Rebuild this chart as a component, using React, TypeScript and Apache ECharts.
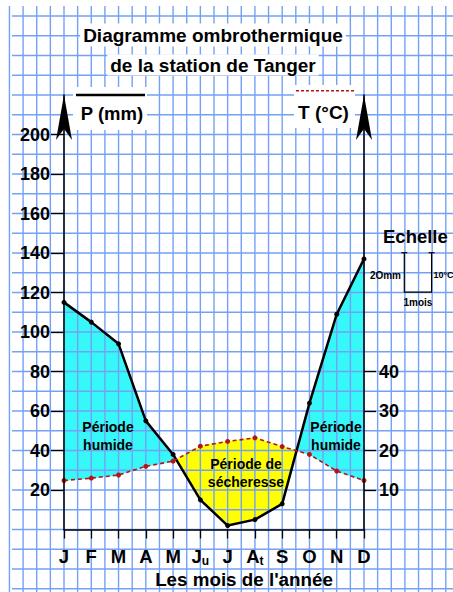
import React, { useEffect, useRef } from 'react';
import * as echarts from 'echarts';

// ---- data ----
const months = ['J', 'F', 'M', 'A', 'M', 'Ju', 'J', 'At', 'S', 'O', 'N', 'D'];
const precipitation = [115, 105, 94, 55, 38, 15, 2, 5, 13, 64, 109, 137]; // mm
const temperature = [12.4, 13.0, 13.8, 16.0, 17.3, 21.1, 22.3, 23.2, 21.0, 19.0, 14.8, 12.4]; // °C
const precipTicks = [20, 40, 60, 80, 100, 120, 140, 160, 180, 200];
const tempTicks = [10, 20, 30, 40];
const MM_PER_DEGREE = 2; // ombrothermic convention P = 2T
const P_MAX = 220;

// ---- layout ----
const W = 453;
const H = 592;
const GRID_LEFT = 64;
const GRID_WIDTH = 300;
const GRID_TOP = 95;
const AXIS_Y = 529.5;
const FONT = '"Liberation Sans", Arial, Helvetica, sans-serif';
const CYAN = '#36f8f8';
const YELLOW = '#ffff00';
const PAPER = '#74a1f4';
const RED = '#b3151b';

function buildPaper() {
  const els: any[] = [];
  const cellW = GRID_WIDTH / (months.length - 1) / 2;
  const pxPerMM = (AXIS_Y - GRID_TOP) / P_MAX;
  const cellH = 10 * pxPerMM;
  let x0 = GRID_LEFT;
  while (x0 - cellW >= 9) x0 -= cellW;
  for (let x = x0; x <= W; x += cellW) {
    els.push({ type: 'line', silent: true, z: 2, shape: { x1: x, y1: 6, x2: x, y2: H }, style: { stroke: PAPER, lineWidth: 1.4 } });
  }
  let y0 = AXIS_Y;
  while (y0 + cellH <= H) y0 += cellH;
  for (let y = y0; y >= 14; y -= cellH) {
    els.push({ type: 'line', silent: true, z: 2, shape: { x1: 12, y1: y, x2: W, y2: y }, style: { stroke: PAPER, lineWidth: 1.4 } });
  }
  return { els, cellW, pxPerMM };
}

function txt(text: string, x: number, y: number, size: number, align: string, extra: any = {}) {
  return {
    type: 'text', z: 20, silent: true, x, y,
    style: {
      text, fill: '#000', fontFamily: FONT, fontWeight: 'bold', fontSize: size,
      align, verticalAlign: 'middle', ...extra,
    },
  };
}

export default function App() {
  const ref = useRef<HTMLDivElement>(null);
  useEffect(() => {
    if (!ref.current) return;
    const chart = echarts.init(ref.current, null, { renderer: 'svg' });
    const { els: paper, cellW, pxPerMM } = buildPaper();
    const scaleH = 20 * pxPerMM;
    const scaleW = cellW * 2;
    const sx = 404.3;
    const sy = 252.7;

    const graphics: any[] = [
      ...paper,
      // title
      txt('Diagramme ombrothermique', 213, 35, 19, 'center', { backgroundColor: '#fff', padding: [2, 3] }),
      txt('de la station de Tanger', 213, 65, 19, 'center', { backgroundColor: '#fff', padding: [1, 3] }),
      // P legend
      { type: 'rect', z: 15, silent: true, shape: { x: 73, y: 87, width: 74, height: 43 }, style: { fill: '#fff' } },
      { type: 'line', z: 16, silent: true, shape: { x1: 76, y1: 95, x2: 145, y2: 95 }, style: { stroke: '#000', lineWidth: 2.5 } },
      txt('P (mm)', 112, 113, 18.5, 'center'),
      // T legend
      { type: 'rect', z: 15, silent: true, shape: { x: 294, y: 85, width: 61, height: 43 }, style: { fill: '#fff' } },
      { type: 'line', z: 16, silent: true, shape: { x1: 296, y1: 90.7, x2: 354, y2: 90.7 }, style: { stroke: RED, lineWidth: 1.5, lineDash: [3, 2] } },
      txt('T (°C)', 323.5, 112, 19, 'center'),
      // scale
      txt('Echelle', 383, 236, 18.5, 'left'),
      { type: 'polyline', z: 16, silent: true, shape: { points: [[sx, sy], [sx, sy + scaleH], [sx + scaleW, sy + scaleH], [sx + scaleW, sy]] }, style: { stroke: '#000', lineWidth: 1.2, fill: null } },
      { type: 'line', z: 16, silent: true, shape: { x1: sx - 3, y1: sy, x2: sx + 3, y2: sy }, style: { stroke: '#000', lineWidth: 1.2 } },
      { type: 'line', z: 16, silent: true, shape: { x1: sx + scaleW - 3, y1: sy, x2: sx + scaleW + 3, y2: sy }, style: { stroke: '#000', lineWidth: 1.2 } },
      txt('2Omm', 401, 275, 10, 'right'),
      txt('10°C', 433.5, 275, 9, 'left'),
      txt('1mois', sx + scaleW / 2, 302, 10, 'center'),
      // period labels
      txt('Période\nhumide', 108, 436, 14, 'center', { lineHeight: 18 }),
      txt('Période\nhumide', 336, 436, 14, 'center', { lineHeight: 18 }),
      txt('Période de\nsécheresse', 246, 473, 14, 'center', { lineHeight: 18 }),
      // x axis title
      txt("Les mois de l'année", 244, 579, 18.8, 'center'),
    ];

    const axisText = { color: '#000', fontWeight: 'bold', fontFamily: FONT };

    chart.setOption({
      animation: false,
      textStyle: { fontFamily: FONT },
      grid: { left: GRID_LEFT, top: GRID_TOP, width: GRID_WIDTH, height: AXIS_Y - GRID_TOP },
      xAxis: {
        type: 'category', data: months, boundaryGap: false, z: 6,
        axisLine: { lineStyle: { color: '#000', width: 1.5 } },
        axisTick: { show: true, interval: 0, length: 9, lineStyle: { color: '#000', width: 1.3 } },
        splitLine: { show: false },
        axisLabel: {
          interval: 0, margin: 17,
          formatter: (v: string) => (v === 'Ju' ? '{b|J}{s|u}' : v === 'At' ? '{b|A}{s|t}' : '{b|' + v + '}'),
          rich: {
            b: { ...axisText, fontSize: 18.5, lineHeight: 20 },
            s: { ...axisText, fontSize: 12, lineHeight: 12, verticalAlign: 'bottom' },
          },
        },
      },
      yAxis: [
        {
          type: 'value', min: 0, max: P_MAX, interval: 20, position: 'left', z: 6,
          axisLine: { show: true, onZero: false, lineStyle: { color: '#000', width: 1.5 }, symbol: ['none', 'arrow'], symbolSize: [12, 45] },
          axisTick: { show: true, length: 13, customValues: precipTicks, lineStyle: { color: '#000', width: 1.3 } },
          axisLabel: { ...axisText, fontSize: 18, margin: 14, customValues: precipTicks, formatter: (v: number) => (precipTicks.includes(v) ? String(v) : '') },
          splitLine: { show: false },
        },
        {
          type: 'value', min: 0, max: P_MAX / MM_PER_DEGREE, interval: 10, position: 'right', z: 6,
          axisLine: { show: true, onZero: false, lineStyle: { color: '#000', width: 1.5 }, symbol: ['none', 'arrow'], symbolSize: [12, 45] },
          axisTick: { show: true, length: 12, customValues: tempTicks, lineStyle: { color: '#000', width: 1.3 } },
          axisLabel: { ...axisText, fontSize: 18, margin: 15, customValues: tempTicks, formatter: (v: number) => (tempTicks.includes(v) ? String(v) : '') },
          splitLine: { show: false },
        },
      ],
      graphic: { elements: graphics },
      series: [
        {
          type: 'custom', z: 1, silent: true, xAxisIndex: 0, yAxisIndex: 0,
          data: precipitation.slice(0, -1).map((p, i) => [i, p]),
          encode: { x: 0, y: 1 },
          renderItem: (params: any, api: any) => {
            const i = api.value(0) as number;
            const tm0 = temperature[i] * MM_PER_DEGREE;
            const tm1 = temperature[i + 1] * MM_PER_DEGREE;
            const p0 = api.coord([i, precipitation[i]]);
            const p1 = api.coord([i + 1, precipitation[i + 1]]);
            const t0 = api.coord([i, tm0]);
            const t1 = api.coord([i + 1, tm1]);
            const d0 = precipitation[i] - tm0;
            const d1 = precipitation[i + 1] - tm1;
            const poly = (pts: number[][], humid: boolean) => {
              const c = humid ? CYAN : YELLOW;
              return { type: 'polygon', shape: { points: pts }, style: { fill: c, stroke: c, lineWidth: 0.6 } };
            };
            const children: any[] = [];
            if ((d0 >= 0 && d1 >= 0) || (d0 <= 0 && d1 <= 0)) {
              children.push(poly([p0, p1, t1, t0], d0 + d1 > 0));
            } else {
              const f = d0 / (d0 - d1);
              const c = [p0[0] + f * (p1[0] - p0[0]), p0[1] + f * (p1[1] - p0[1])];
              children.push(poly([p0, c, t0], d0 > 0));
              children.push(poly([c, p1, t1], d1 > 0));
            }
            return { type: 'group', children };
          },
        },
        {
          type: 'line', name: 'P (mm)', data: precipitation, yAxisIndex: 0, z: 5,
          symbol: 'circle', symbolSize: 5,
          lineStyle: { color: '#000', width: 2.5 }, itemStyle: { color: '#000' },
        },
        {
          type: 'line', name: 'T (°C)', data: temperature, yAxisIndex: 1, z: 5,
          symbol: 'circle', symbolSize: 5,
          lineStyle: { color: RED, width: 1.6, type: [4, 3] }, itemStyle: { color: RED },
        },
      ],
    });
    return () => chart.dispose();
  }, []);
  return <div ref={ref} style={{ position: 'absolute', left: 0, top: 0, width: W, height: H }} />;
}
